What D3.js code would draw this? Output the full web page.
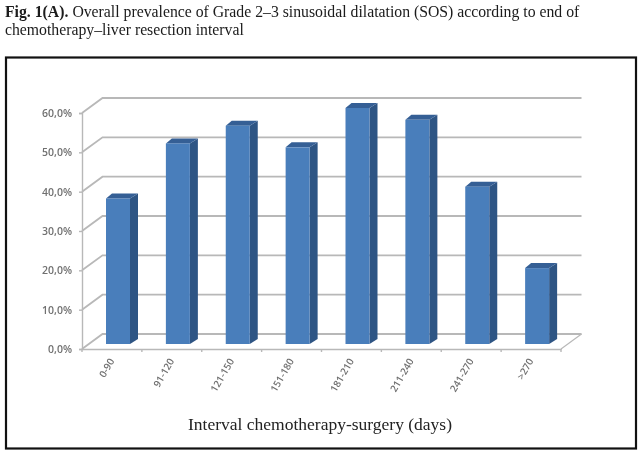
<!DOCTYPE html>
<html><head><meta charset="utf-8">
<script src="https://cdn.jsdelivr.net/npm/d3@7"></script>
<style>html,body{margin:0;padding:0;background:#fff}svg{display:block}</style>
</head><body><svg id="c" width="640" height="454"></svg>
<script>
const categories = ["0-90","91-120","121-150","151-180","181-210","211-240","241-270",">270"];
const values = [37, 51, 55.5, 50, 60, 57, 40, 19.3];
const yTicks = [0, 10, 20, 30, 40, 50, 60];

const svg = d3.select("#c");
const defs = svg.append("defs");
const soft = defs.append("filter").attr("id","soft");
soft.append("feGaussianBlur").attr("stdDeviation",0.5);
const softer = defs.append("filter").attr("id","softText");
softer.append("feGaussianBlur").attr("stdDeviation",0.3);

const fmt = d3.formatLocale({decimal:",",thousands:".",grouping:[3],currency:["",""]}).format(".1f");
const x = d3.scaleBand().domain(categories).range([82,561]);
const y = d3.scaleLinear().domain([0,60]).range([349,113]);
const wallDx = 20.5, wallDy = -15, barW = 24, barInset = 24, barLift = -5, sideDx = 8, sideDy = -5;

svg.append("rect").attr("x",6).attr("y",57.5).attr("width",630).attr("height",391)
  .attr("fill","#fff").attr("stroke","#111").attr("stroke-width",2.2);

const head = svg.append("g").attr("filter","url(#softText)").attr("font-family","Liberation Serif").attr("font-size",15.75).attr("fill","#1a1a1a");
head.append("text").attr("x",5).attr("y",17)
  .call(t=>{t.append("tspan").attr("font-weight","bold").text("Fig. 1(A).");
            t.append("tspan").text(" Overall prevalence of Grade 2–3 sinusoidal dilatation (SOS) according to end of");});
head.append("text").attr("x",5).attr("y",35).text("chemotherapy–liver resection interval");

const plot = svg.append("g").attr("filter","url(#soft)");
const grey = "#b8b8b8";

const grid = plot.append("g").attr("fill","none").attr("stroke",grey).attr("stroke-width",1.8);
grid.selectAll("path").data(yTicks).join("path")
  .attr("d", v => d3.line()([[x.range()[0],y(v)],[x.range()[0]+wallDx,y(v)+wallDy],[x.range()[1]+wallDx,y(v)+wallDy]]));
grid.append("path").attr("d", d3.line()([[x.range()[1],y(0)],[x.range()[1]+wallDx,y(0)+wallDy]])).attr("stroke-width",1.2);

const yAxis = d3.axisLeft(y).tickValues(yTicks).tickSize(3).tickPadding(7).tickFormat(v=>fmt(v)+"%");
const gy = plot.append("g").attr("transform","translate(82,0)").call(yAxis);
gy.selectAll("text").attr("font-family","Open Sans").attr("font-size",10.5).attr("font-weight",600).attr("fill","#707070");
gy.selectAll("line,path").attr("stroke",grey).attr("stroke-width",1.4);

const xAxis = d3.axisBottom(x).tickSize(0).tickPadding(9);
const gx = plot.append("g").attr("transform",`translate(0,${y(0)})`).call(xAxis);
gx.select("path").attr("stroke",grey).attr("stroke-width",1.4);
gx.selectAll("text").attr("font-family","Open Sans").attr("font-size",9.8).attr("font-weight",600).attr("fill","#707070")
  .attr("text-anchor","end").attr("dy",0).attr("transform","translate(-5,7.5) rotate(-60)");
gx.selectAll(".tickmark").data(d3.range(categories.length+1)).join("line").attr("class","tickmark")
  .attr("x1",i=>x.range()[0]+i*x.step()).attr("x2",i=>x.range()[0]+i*x.step())
  .attr("y1",0).attr("y2",3).attr("stroke",grey).attr("stroke-width",1.4);

const bars = plot.append("g").selectAll("g").data(categories).join("g");
const left = c => x(c)+barInset;
const base = y(0)+barLift;
const top_ = (i) => base-(y(0)-y(values[i]));
bars.append("path").attr("fill","#2f5484")
  .attr("d",(c,i)=>d3.line()([[left(c)+barW,base],[left(c)+barW+sideDx,base+sideDy],[left(c)+barW+sideDx,top_(i)+sideDy],[left(c)+barW,top_(i)]])+"Z");
bars.append("path").attr("fill","#345f95")
  .attr("d",(c,i)=>d3.line()([[left(c),top_(i)],[left(c)+barW,top_(i)],[left(c)+barW+sideDx,top_(i)+sideDy],[left(c)+sideDx-2,top_(i)+sideDy]])+"Z");
bars.append("rect").attr("fill","#4a7ebb")
  .attr("x",c=>left(c)).attr("width",barW)
  .attr("y",(c,i)=>top_(i)).attr("height",(c,i)=>base-top_(i));

svg.append("text").attr("x",320).attr("y",430).attr("text-anchor","middle").attr("filter","url(#softText)")
  .attr("font-family","Liberation Serif").attr("font-size",17.5).attr("fill","#222")
  .text("Interval chemotherapy-surgery (days)");
</script></body></html>
